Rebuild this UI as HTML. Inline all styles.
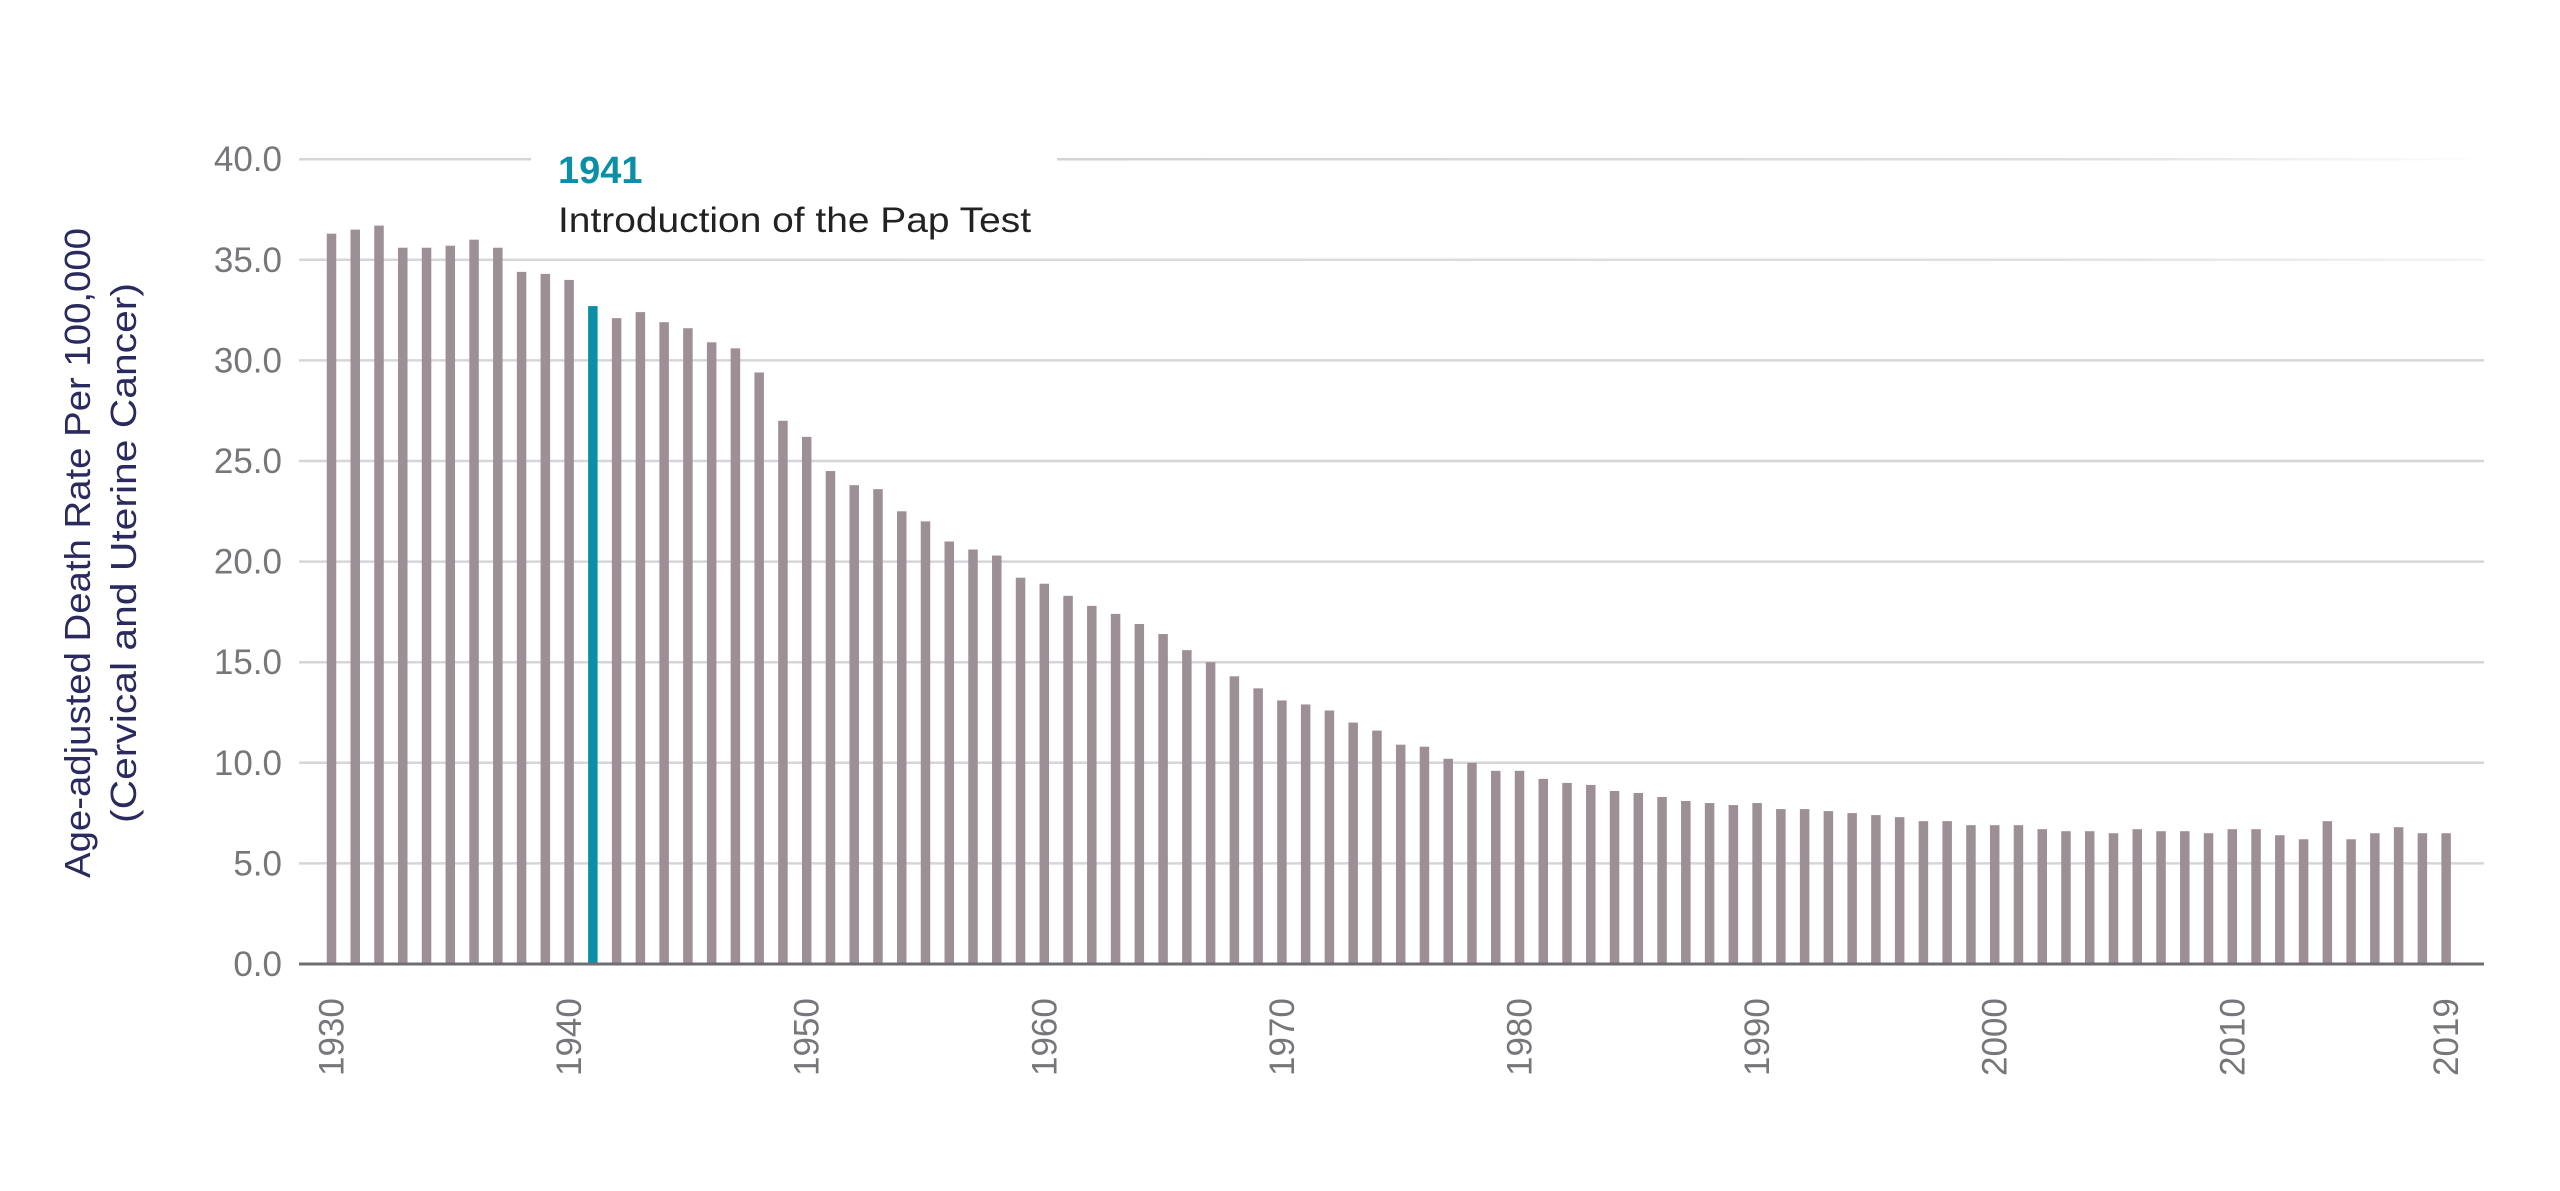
<!DOCTYPE html>
<html><head><meta charset="utf-8">
<style>
html,body{margin:0;padding:0;background:#fff;width:2560px;height:1191px;overflow:hidden}
svg{display:block}
text{font-family:"Liberation Sans",sans-serif}
</style></head>
<body>
<svg id="c" width="2560" height="1191" viewBox="0 0 2560 1191" xmlns="http://www.w3.org/2000/svg">
<defs>
<linearGradient id="fade" gradientUnits="userSpaceOnUse" x1="1050" x2="2490" y1="0" y2="0">
<stop offset="0" stop-color="#d3d3d6"/><stop offset="0.7" stop-color="#dedee0"/><stop offset="1" stop-color="#ffffff"/>
</linearGradient>
<linearGradient id="fade2" gradientUnits="userSpaceOnUse" x1="299" x2="2484" y1="0" y2="0">
<stop offset="0" stop-color="#d6d6d9"/><stop offset="0.8" stop-color="#e0e0e2"/><stop offset="1" stop-color="#f4f4f5"/>
</linearGradient>
</defs>
<g id="grid"></g>
<g id="bars"></g>
<line x1="299" y1="964" x2="2484" y2="964" stroke="#6f6d72" stroke-width="3"/>
<g id="ylab" font-size="35" fill="#77767a" text-anchor="end"></g>
<g id="xlab" font-size="35" fill="#77767a"></g>
<text x="558" y="183" font-size="38" font-weight="bold" fill="#0b8fa6">1941</text>
<text x="558" y="232" font-size="35" fill="#222" textLength="473" lengthAdjust="spacingAndGlyphs">Introduction of the Pap Test</text>
<g transform="translate(90,553) rotate(-90)" fill="#2b2a5e" font-size="36" text-anchor="middle">
<text x="0" y="0" textLength="650" lengthAdjust="spacingAndGlyphs">Age-adjusted Death Rate Per 100,000</text>
<text x="0" y="46" textLength="540" lengthAdjust="spacingAndGlyphs">(Cervical and Uterine Cancer)</text>
</g>
</svg>
<script>
var v=[36.3,36.5,36.7,35.6,35.6,35.7,36.0,35.6,34.4,34.3,
34.0,32.7,32.1,32.4,31.9,31.6,30.9,30.6,29.4,27.0,
26.2,24.5,23.8,23.6,22.5,22.0,21.0,20.6,20.3,19.2,
18.9,18.3,17.8,17.4,16.9,16.4,15.6,15.0,14.3,13.7,
13.1,12.9,12.6,12.0,11.6,10.9,10.8,10.2,10.0,9.6,
9.6,9.2,9.0,8.9,8.6,8.5,8.3,8.1,8.0,7.9,
8.0,7.7,7.7,7.6,7.5,7.4,7.3,7.1,7.1,6.9,
6.9,6.9,6.7,6.6,6.6,6.5,6.7,6.6,6.6,6.5,
6.7,6.7,6.4,6.2,7.1,6.2,6.5,6.8,6.5,6.5];
var NS="http://www.w3.org/2000/svg";
function el(t,a,p,txt){var e=document.createElementNS(NS,t);for(var k in a)e.setAttribute(k,a[k]);if(txt)e.textContent=txt;p.appendChild(e);return e;}
var y0=964,u=20.12,x0=331.5,dx=23.76;
var g=document.getElementById('grid'),yl=document.getElementById('ylab'),b=document.getElementById('bars'),xl=document.getElementById('xlab');
for(var i=0;i<=8;i++){var y=y0-i*5*u;
 if(i==8){el('line',{x1:299,y1:y,x2:531,y2:y,stroke:'#d6d6d9','stroke-width':2.5},g);el('line',{x1:1057,y1:y,x2:2484,y2:y,stroke:'url(#fade)','stroke-width':2.5},g);}
 else if(i>0){el('line',{x1:299,y1:y,x2:2484,y2:y,stroke:i==7?'url(#fade2)':'#d6d6d9','stroke-width':2.5},g);}
 el('text',{x:282,y:y+12},yl,(i*5).toFixed(1));}
for(var j=0;j<v.length;j++){var x=x0+j*dx,h=v[j]*u;
 el('rect',{x:x-4.75,y:y0-h,width:9.5,height:h,fill:j==11?'#0b8fa6':'#9c9096'},b);}
[0,10,20,30,40,50,60,70,80,89].forEach(function(j){var x=x0+j*dx+12;
 el('text',{x:0,y:0,transform:'translate('+x+',1076) rotate(-90)'},xl,String(1930+j));});
</script>
</body></html>
